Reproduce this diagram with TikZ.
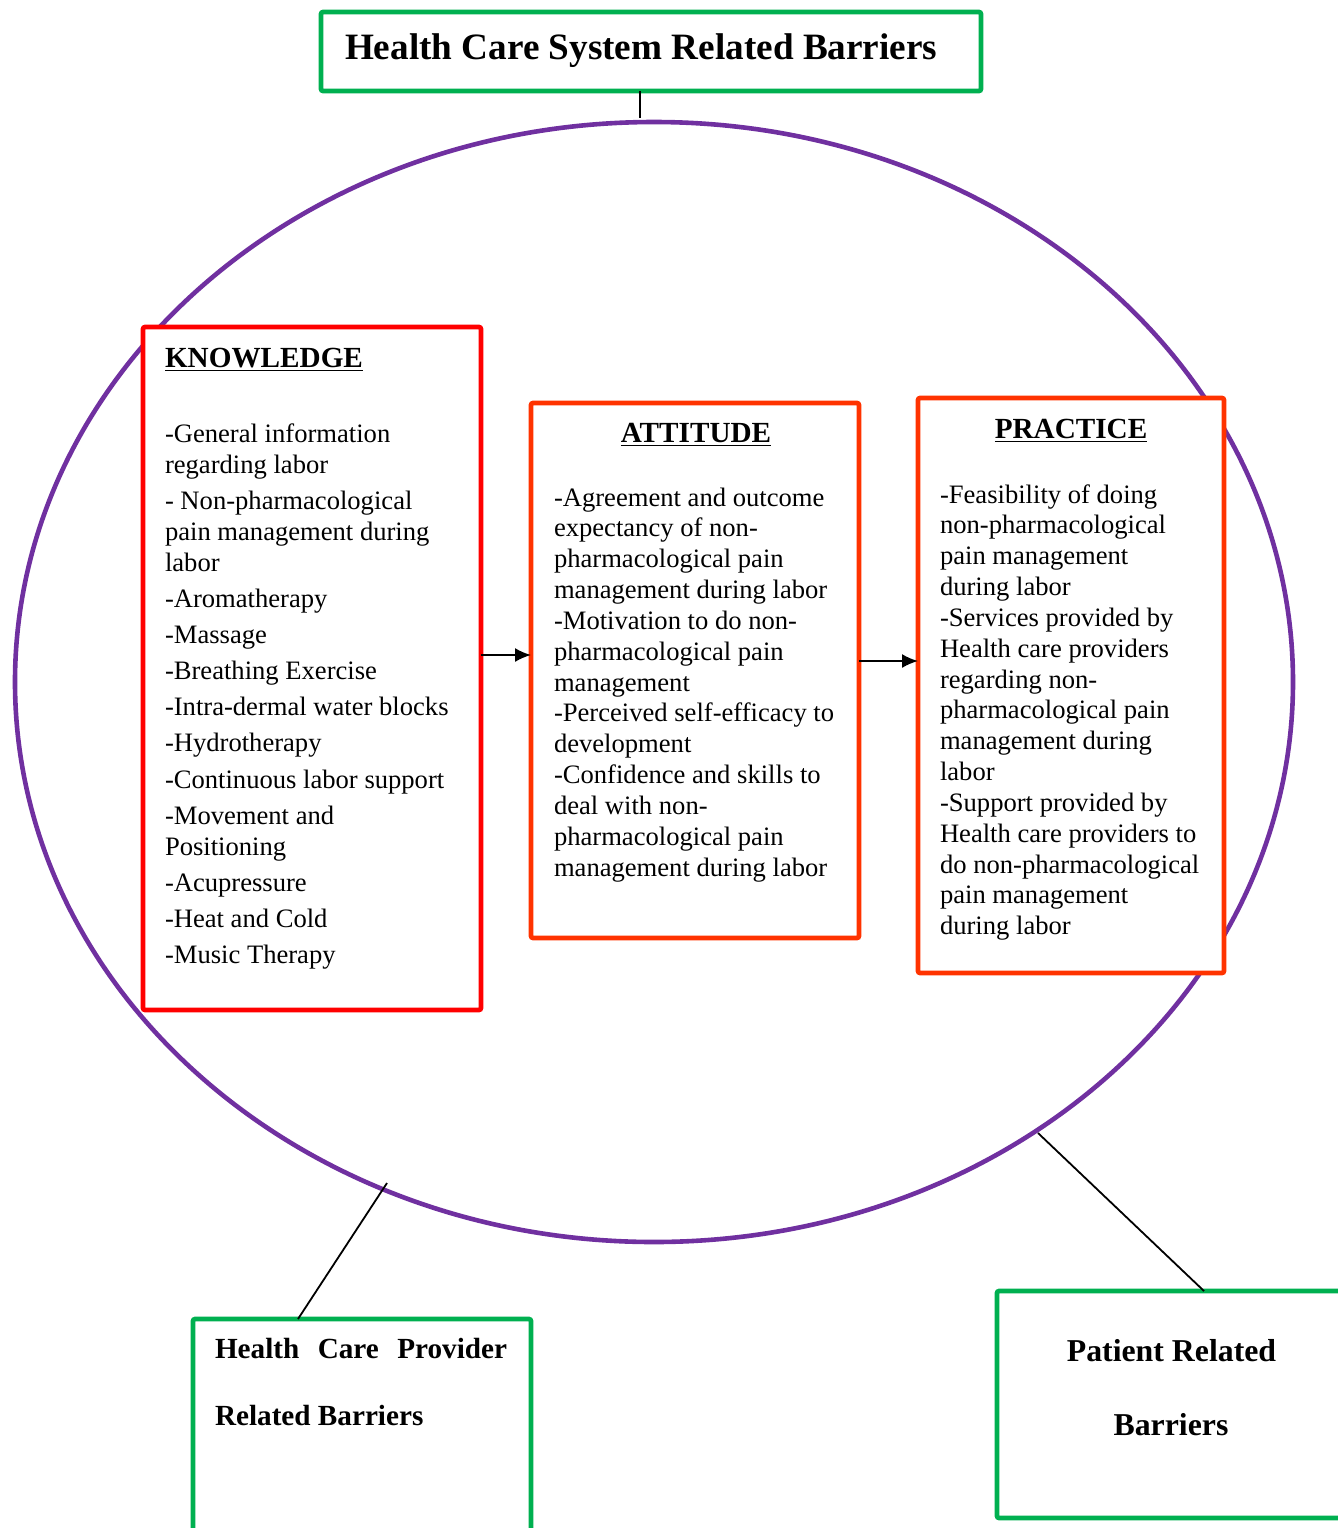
\documentclass[tikz,border=0pt]{standalone}
\usepackage{fontspec}
\setmainfont{Liberation Serif}
\usetikzlibrary{shapes.geometric,arrows.meta}
\definecolor{gboxc}{HTML}{00B050}
\definecolor{rboxc}{HTML}{FF0000}
\definecolor{oboxc}{HTML}{FF3300}
\definecolor{purp}{HTML}{7030A0}
\newcommand{\bodytxt}{\fontsize{13.3}{15.42}\selectfont}
\newcommand{\knowtxt}{\fontsize{13.3}{15.55}\selectfont}
\newcommand{\headtxt}{\fontsize{14.6}{17}\selectfont\bfseries}
\newcommand{\barrtxt}{\fontsize{15.9}{19}\selectfont\bfseries}
\newcommand{\provtxt}{\fontsize{14.6}{17}\selectfont\bfseries}
\begin{document}
\begin{tikzpicture}[x=0.5pt,y=-0.5pt,
  gbox/.style={draw=gboxc, line width=2.3pt, rectangle, rounded corners=1pt, outer sep=0pt, inner sep=0pt, fill=white},
  rbox/.style={draw=rboxc, line width=2.3pt, rectangle, rounded corners=1pt, outer sep=0pt, inner sep=0pt, fill=white},
  obox/.style={draw=oboxc, line width=2.3pt, rectangle, rounded corners=1pt, outer sep=0pt, inner sep=0pt, fill=white},
  txt/.style={inner sep=0pt, outer sep=0pt, anchor=base west},
  ctxt/.style={inner sep=0pt, outer sep=0pt, anchor=base},
  link/.style={draw=black, line width=0.9pt},
  arr/.style={draw=black, line width=0.9pt, -{Latex[length=8pt,width=7pt]}}]
\useasboundingbox (0,0) rectangle (1338,1528);
\clip (0,0) rectangle (1338,1528);
\fill[white] (0,0) rectangle (1338,1528);
% big ellipse
\node[ellipse, draw=purp, line width=2.3pt, inner sep=0pt, outer sep=0pt,
      minimum width=639pt, minimum height=560pt] (circ) at (654,682) {};
% boxes
\node[gbox, minimum width=330pt, minimum height=39.5pt] (top) at (651,51.5) {};
\node[rbox, minimum width=169pt, minimum height=341.5pt] (know) at (312,668.5) {};
\node[obox, minimum width=164pt, minimum height=267.5pt] (att) at (695,670.5) {};
\node[obox, minimum width=153pt, minimum height=287.5pt] (prac) at (1071,685.5) {};
\node[gbox, minimum width=169pt, minimum height=140.5pt] (prov) at (362,1459.5) {};
\node[gbox, minimum width=201.5pt, minimum height=113.5pt] (pat) at (1198.5,1404.5) {};
% connectors
\coordinate (c1) at (640,118);
\coordinate (c2) at (387,1183);
\coordinate (c3) at (1038,1133);
\coordinate (a1) at (0,655);
\coordinate (a2) at (0,661);
\draw[link] (top.south -| c1) -- (c1);
\draw[link] (c2) -- (prov.north -| 298,0);
\draw[link] (c3) -- (pat.north -| 1204,0);
\draw[arr] (know.east |- a1) -- (att.west |- a1);
\draw[arr] (att.east |- a2) -- (prac.west |- a2);
% title texts
\node[txt] (ttop) at (345,59) {\fontsize{18.6}{22}\selectfont\bfseries Health Care System Related Barriers};
\node[txt] (tprov1) at (215,1358) {\provtxt\makebox[146pt][s]{Health\hfill Care\hfill Provider}};
\node[txt] (tprov2) at (215,1425) {\provtxt Related Barriers};
\node[ctxt] (tpat1) at (1171.5,1361) {\barrtxt Patient Related};
\node[ctxt] (tpat2) at (1171,1435) {\barrtxt Barriers};
% headings
\node[txt] (hknow) at (165,367) {\headtxt\underline{KNOWLEDGE}};
\node[ctxt] (hatt) at (696,442) {\headtxt\underline{ATTITUDE}};
\node[ctxt] (hprac) at (1071,438) {\headtxt\underline{PRACTICE}};
% body texts
\node[txt] (bknow) at (165,442) {\parbox[t]{200pt}{\knowtxt\raggedright
-General information\\
regarding labor\\[2.5pt]
- Non-pharmacological\\
pain management during\\
labor\\[2.5pt]
-Aromatherapy\\[2.5pt]
-Massage\\[2.5pt]
-Breathing Exercise\\[2.5pt]
-Intra-dermal water blocks\\[2.5pt]
-Hydrotherapy\\[2.5pt]
-Continuous labor support\\[2.5pt]
-Movement and\\
Positioning\\[2.5pt]
-Acupressure\\[2.5pt]
-Heat and Cold\\[2.5pt]
-Music Therapy}};
\node[txt] (batt) at (554,506) {\parbox[t]{200pt}{\bodytxt\raggedright
-Agreement and outcome\\
expectancy of non-\\
pharmacological pain\\
management during labor\\
-Motivation to do non-\\
pharmacological pain\\
management\\
-Perceived self-efficacy to\\
development\\
-Confidence and skills to\\
deal with non-\\
pharmacological pain\\
management during labor}};
\node[txt] (bprac) at (940,503) {\parbox[t]{200pt}{\bodytxt\raggedright
-Feasibility of doing\\
non-pharmacological\\
pain management\\
during labor\\
-Services provided by\\
Health care providers\\
regarding non-\\
pharmacological pain\\
management during\\
labor\\
-Support provided by\\
Health care providers to\\
do non-pharmacological\\
pain management\\
during labor}};
\end{tikzpicture}
\end{document}
